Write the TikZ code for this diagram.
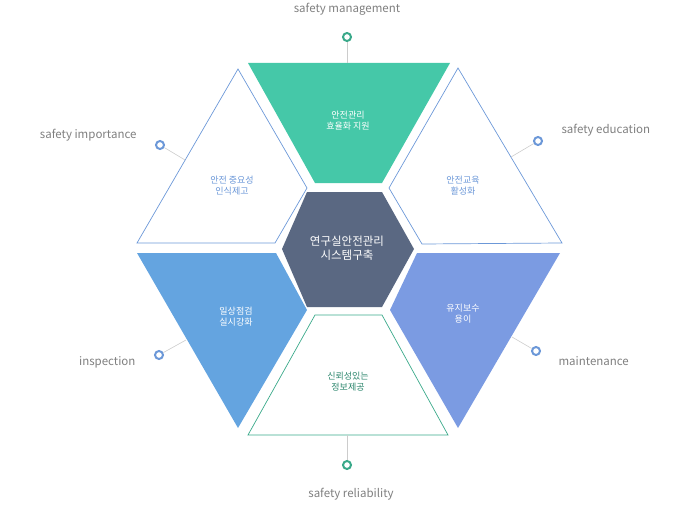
\documentclass[tikz,border=0pt]{standalone}
\usepackage{fontspec}
\setmainfont{Noto Sans CJK KR}
\definecolor{mint}{HTML}{45C8A8}
\definecolor{skyblue}{HTML}{64A4E0}
\definecolor{lavblue}{HTML}{7B9BE2}
\definecolor{slate}{HTML}{5A6882}
\definecolor{lineblue}{HTML}{6C98D8}
\definecolor{lineteal}{HTML}{3AA98A}
\definecolor{labgray}{HTML}{7F7F7F}
\tikzset{
  dot/.style={circle,draw=#1,line width=2pt,inner sep=0pt,minimum size=8pt,fill=white},
  lbl/.style={text=labgray,font=\fontsize{11.5}{13}\selectfont},
  inner/.style={align=center,font=\fontsize{9}{11}\selectfont},
  stem/.style={draw=gray!40,line width=0.6pt}
}
\begin{document}
\begin{tikzpicture}[x=1pt,y=-1pt]
    \useasboundingbox (0,0) rectangle (683,519);

    % centre hexagon and six trapezoids
    \fill[slate] (282,249) -- (307,192) -- (382,192) -- (414,249) -- (382,307) -- (307,307) -- cycle;
    \fill[mint] (248,63) -- (450,63) -- (382,183) -- (315,183) -- cycle;
    \draw[lineblue,line width=0.7pt] (238,69) -- (307,188) -- (275,243) -- (137,243) -- cycle;
    \draw[lineblue,line width=0.7pt] (458,68) -- (562,243) -- (422,244) -- (389,188) -- cycle;
    \fill[skyblue] (137,253) -- (276,253) -- (307,310) -- (238,428) -- cycle;
    \fill[lavblue] (560,253) -- (417,253) -- (390,310) -- (458,428) -- cycle;
    \draw[lineteal,line width=0.7pt] (248,435) -- (448,435) -- (382,315) -- (315,315) -- cycle;

    \node[inner,text=white,font=\fontsize{11.5}{14}\selectfont] (hub) at (347,248) {연구실안전관리\\시스템구축};
    \node[inner,text=white] (t1) at (348,121) {안전관리\\효율화 지원};
    \node[inner,text=lineblue] (t2) at (232,186) {안전 중요성\\인식제고};
    \node[inner,text=lineblue] (t3) at (463,186) {안전교육\\활성화};
    \node[inner,text=white] (t4) at (236,317) {일상점검\\실시강화};
    \node[inner,text=white] (t5) at (463,314) {유지보수\\용이};
    \node[inner,text=lineteal!80!black] (t6) at (348,382) {신뢰성있는\\정보제공};

    % markers and outside labels
    \node[dot=lineteal] (d1) at (347,37) {};
    \node[dot=lineblue] (d2) at (160,145) {};
    \node[dot=lineblue] (d3) at (538,141) {};
    \node[dot=lineblue] (d4) at (159,355) {};
    \node[dot=lineblue] (d5) at (536,351) {};
    \node[dot=lineteal] (d6) at (347,465) {};
    \coordinate (e1) at (347,63);
    \coordinate (e2) at (185,160);
    \coordinate (e3) at (511,157);
    \coordinate (e4) at (186,340);
    \coordinate (e5) at (512,337);
    \coordinate (e6) at (347,435);
    \foreach \i in {1,...,6} {\draw[stem] (d\i) -- (e\i);}

    \node[lbl] (l1) at (347,9) {safety management};
    \node[lbl,anchor=east] (l2) at (140,135) {safety importance};
    \node[lbl,anchor=west] (l3) at (558,130) {safety education};
    \node[lbl,anchor=east] (l4) at (139,362) {inspection};
    \node[lbl,anchor=west] (l5) at (555,361) {maintenance};
    \node[lbl] (l6) at (351,494) {safety reliability};
\end{tikzpicture}
\end{document}
